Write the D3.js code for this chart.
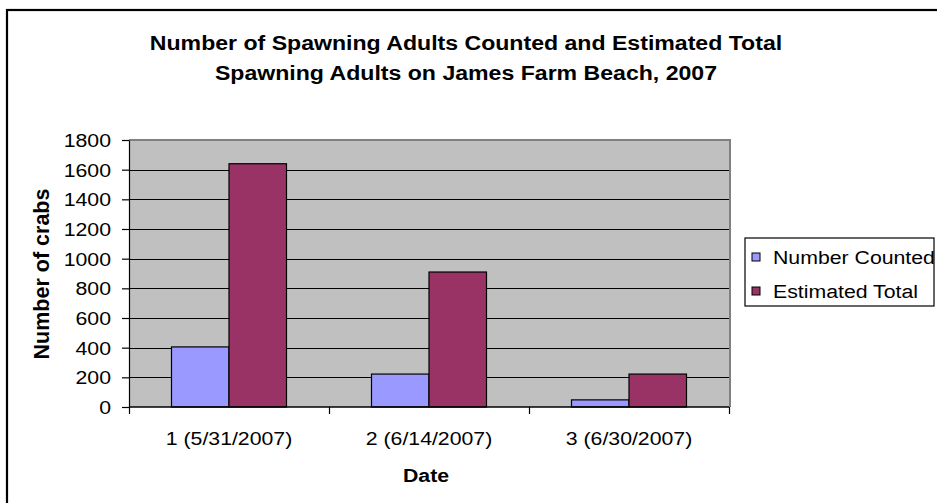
<!DOCTYPE html>
<html>
<head>
<meta charset="utf-8">
<script src="https://cdn.jsdelivr.net/npm/d3@7"></script>
<style>
  html, body { margin: 0; padding: 0; background: #fff; }
  svg { display: block; }
  text { font-family: "Liberation Sans", Arial, sans-serif; fill: #000; }
</style>
</head>
<body>
<svg id="chart" width="937" height="503"></svg>
<script>
// Survey dates and spawning counts
const dates = ["1 (5/31/2007)", "2 (6/14/2007)", "3 (6/30/2007)"];
const seriesNames = ["Number Counted", "Estimated Total"];
const numberCounted = [405, 222, 48];
const estimatedTotal = [1640, 910, 222];
const yTicks = [0, 200, 400, 600, 800, 1000, 1200, 1400, 1600, 1800];
const seriesColors = ["#9999FF", "#993366"];

const titleLines = [
  "Number of Spawning Adults Counted and Estimated Total",
  "Spawning Adults on James Farm Beach, 2007"
];

const svg = d3.select("#chart");
const SX = 1.12; // horizontal stretch of the text

// outer chart frame
svg.append("rect")
  .attr("x", 7).attr("y", 10)
  .attr("width", 940).attr("height", 510)
  .attr("fill", "#fff").attr("stroke", "#000").attr("stroke-width", 2.2);

const plot = { left: 129, right: 729, top: 140, bottom: 407 };

const x0 = d3.scaleBand()
  .domain(dates)
  .range([plot.left, plot.right])
  .paddingInner(0.425)
  .paddingOuter(0.2125);

const x1 = d3.scaleBand()
  .domain(seriesNames)
  .range([0, x0.bandwidth()]);

const y = d3.scaleLinear()
  .domain([0, 1800])
  .range([plot.bottom, plot.top]);

const color = d3.scaleOrdinal().domain(seriesNames).range(seriesColors);

// plot background
svg.append("rect")
  .attr("x", plot.left).attr("y", plot.top)
  .attr("width", plot.right - plot.left).attr("height", plot.bottom - plot.top)
  .attr("fill", "#C0C0C0");

// horizontal gridlines
svg.append("g")
  .selectAll("line")
  .data(yTicks.filter(t => t > 0 && t < 1800))
  .join("line")
  .attr("x1", plot.left).attr("x2", plot.right)
  .attr("y1", d => Math.round(y(d)) + 0.5).attr("y2", d => Math.round(y(d)) + 0.5)
  .attr("stroke", "#000").attr("stroke-width", 1);

// frame top and right edges
svg.append("path")
  .attr("d", `M${plot.left},${plot.top} H${plot.right + 1} V${plot.bottom}`)
  .attr("fill", "none").attr("stroke", "#808080").attr("stroke-width", 2);

// bars
const rows = dates.map((d, i) => ({
  date: d,
  values: [
    { key: seriesNames[0], value: numberCounted[i] },
    { key: seriesNames[1], value: estimatedTotal[i] }
  ]
}));

svg.append("g")
  .selectAll("g")
  .data(rows)
  .join("g")
  .attr("transform", d => `translate(${x0(d.date)},0)`)
  .selectAll("rect")
  .data(d => d.values)
  .join("rect")
  .attr("x", d => x1(d.key))
  .attr("y", d => y(d.value))
  .attr("width", x1.bandwidth())
  .attr("height", d => y(0) - y(d.value))
  .attr("fill", d => color(d.key))
  .attr("stroke", "#000")
  .attr("stroke-width", 1.2);

// y axis
const yAxis = svg.append("g")
  .attr("transform", `translate(${plot.left},0)`)
  .call(d3.axisLeft(y).tickValues(yTicks).tickSize(7).tickSizeOuter(0).tickFormat(d3.format("d")));
yAxis.select(".domain").attr("stroke", "#000").attr("stroke-width", 1.2);
yAxis.selectAll(".tick line").attr("stroke", "#000").attr("stroke-width", 1.2);
yAxis.selectAll(".tick text")
  .attr("x", 0)
  .attr("dy", "0.35em")
  .attr("transform", `translate(-18,0) scale(${SX},1)`)
  .style("font-size", "19px")
  .style("font-family", "'Liberation Sans', Arial, sans-serif")
  .attr("fill", "#000");

// x axis with ticks between the date groups
const xAxisG = svg.append("g");
xAxisG.append("line")
  .attr("x1", plot.left).attr("x2", plot.right)
  .attr("y1", plot.bottom).attr("y2", plot.bottom)
  .attr("stroke", "#000").attr("stroke-width", 1.5);
const boundaries = [plot.left].concat(dates.map(d => x0(d) + x0.bandwidth() + x0.step() * x0.paddingInner() / 2));
xAxisG.selectAll("line.tk")
  .data(boundaries)
  .join("line")
  .attr("class", "tk")
  .attr("x1", d => Math.round(d) + 0.5).attr("x2", d => Math.round(d) + 0.5)
  .attr("y1", plot.bottom).attr("y2", plot.bottom + 7)
  .attr("stroke", "#000").attr("stroke-width", 1.2);
xAxisG.selectAll("text")
  .data(dates)
  .join("text")
  .attr("transform", d => `translate(${x0(d) + x0.bandwidth() / 2},445) scale(${SX},1)`)
  .attr("text-anchor", "middle")
  .style("font-size", "19px")
  .text(d => d);

// axis titles
svg.append("text")
  .attr("transform", `translate(426,482) scale(${SX},1)`)
  .attr("text-anchor", "middle")
  .style("font-size", "19px").style("font-weight", "bold")
  .text("Date");

svg.append("text")
  .attr("transform", `translate(49,274) rotate(-90)`)
  .attr("text-anchor", "middle")
  .style("font-size", "21.5px").style("font-weight", "bold")
  .text("Number of crabs");

// chart title
svg.append("g")
  .selectAll("text")
  .data(titleLines)
  .join("text")
  .attr("transform", (d, i) => `translate(466,${50 + i * 30}) scale(1.1,1)`)
  .attr("text-anchor", "middle")
  .style("font-size", "21px").style("font-weight", "bold")
  .text(d => d);

// legend
const legend = svg.append("g");
legend.append("rect")
  .attr("x", 745).attr("y", 238)
  .attr("width", 189).attr("height", 68)
  .attr("fill", "#fff").attr("stroke", "#000").attr("stroke-width", 1.2);
const items = legend.selectAll("g.item")
  .data(seriesNames)
  .join("g")
  .attr("class", "item")
  .attr("transform", (d, i) => `translate(752,${257 + i * 34})`);
items.append("rect")
  .attr("x", 0).attr("y", -4)
  .attr("width", 8).attr("height", 8)
  .attr("fill", d => color(d))
  .attr("stroke", "#000").attr("stroke-width", 1);
items.append("text")
  .attr("transform", `translate(21,0) scale(${SX},1)`)
  .attr("dy", "0.36em")
  .style("font-size", "19px")
  .text(d => d);
</script>
</body>
</html>
